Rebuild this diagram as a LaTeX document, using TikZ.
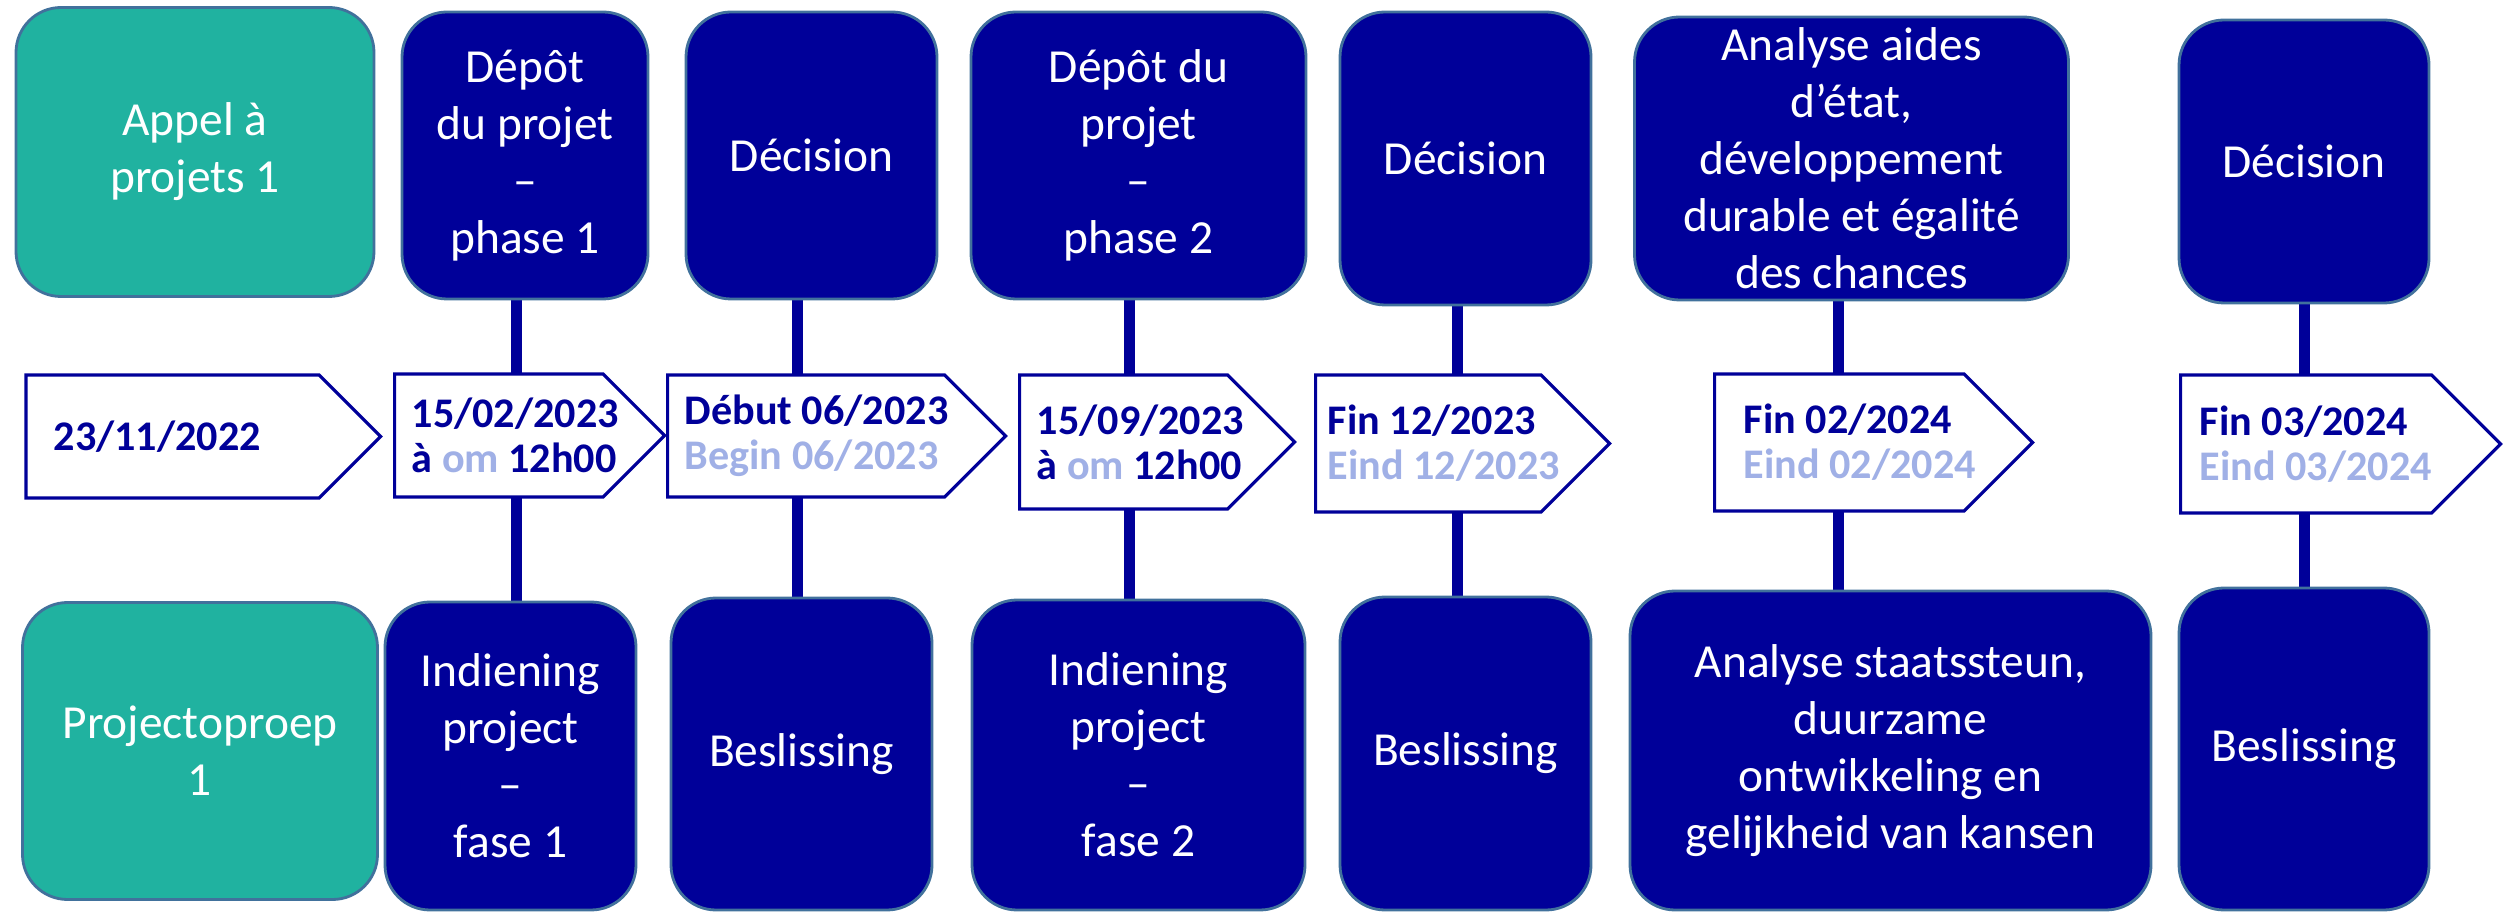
\documentclass[tikz,border=0pt]{standalone}
\usepackage{fontspec}
\setmainfont{Carlito}
\usepackage{tikz}
\usetikzlibrary{shapes.symbols,backgrounds}

\definecolor{navy}{RGB}{0,0,153}
\definecolor{callteal}{RGB}{32,178,160}
\definecolor{boxline}{RGB}{65,113,156}
\definecolor{nltext}{RGB}{160,176,230}

\begin{document}
\begin{tikzpicture}[
        font=\fontsize{13.5}{16.2}\selectfont,
        phase/.style={draw=boxline, line width=0.8pt, fill=navy, text=white, rounded corners=0.45cm, align=center, inner sep=0pt},
        call/.style={phase, fill=callteal},
        datesign/.style={shape=signal, signal to=east, signal pointer angle=90, draw=navy, line width=0.9pt, fill=white, inner sep=0pt, anchor=west},
        datetext/.style={anchor=west, text=navy, font=\fontsize{12}{12.8}\selectfont\bfseries, align=left, inner sep=0pt},
        stem/.style={draw=navy, line width=0.11cm}
    ]
    \useasboundingbox (0,0) rectangle (25.03,-9.13);

    % ==========================================
    % Appel / Projectoproep
    % ==========================================
    \node[call, minimum width=3.58cm, minimum height=2.89cm] (appel) at (1.95, -1.52) {Appel à\\projets 1};
    \node[call, minimum width=3.55cm, minimum height=2.97cm] (oproep) at (2.0, -7.51) {Projectoproep\\1};

    % ==========================================
    % Top row (FR)
    % ==========================================
    \node[phase, minimum width=2.46cm, minimum height=2.87cm] (depot1) at (5.25, -1.555) {Dépôt\\du projet\\–\\phase 1};
    \node[phase, minimum width=2.51cm, minimum height=2.87cm] (dec1) at (8.115, -1.555) {Décision};
    \node[phase, minimum width=3.35cm, minimum height=2.87cm] (depot2) at (11.385, -1.555) {Dépôt du\\projet\\–\\phase 2};
    \node[phase, minimum width=2.51cm, minimum height=2.93cm] (dec2) at (14.655, -1.585) {Décision};
    \node[phase, minimum width=4.34cm, minimum height=2.83cm] (analyse) at (18.515, -1.585) {Analyse aides\\d’état,\\développement\\durable et égalité\\des chances};
    \node[phase, minimum width=2.50cm, minimum height=2.83cm] (dec3) at (23.04, -1.615) {Décision};

    % ==========================================
    % Bottom row (NL)
    % ==========================================
    \node[phase, minimum width=2.51cm, minimum height=3.08cm] (ind1) at (5.105, -7.56) {Indiening\\project\\–\\fase 1};
    \node[phase, minimum width=2.61cm, minimum height=3.12cm] (besl1) at (8.015, -7.54) {Beslissing};
    \node[phase, minimum width=3.33cm, minimum height=3.10cm] (ind2) at (11.385, -7.55) {Indiening\\project\\–\\fase 2};
    \node[phase, minimum width=2.51cm, minimum height=3.13cm] (besl2) at (14.655, -7.535) {Beslissing};
    \node[phase, minimum width=5.21cm, minimum height=3.19cm] (staats) at (18.905, -7.505) {Analyse staatssteun,\\duurzame\\ontwikkeling en\\gelijkheid van kansen};
    \node[phase, minimum width=2.50cm, minimum height=3.22cm] (besl3) at (23.04, -7.49) {Beslissing};

    % ==========================================
    % Dates
    % ==========================================
    \node[datesign, minimum width=3.545cm, minimum height=1.23cm,
          label={[datetext, xshift=0.285cm]west:23/11/2022}] (date1) at (0.245, -4.365) {};
    \node[datesign, minimum width=2.70cm, minimum height=1.23cm,
          label={[datetext, xshift=0.18cm]west:15/02/2023\\à \textcolor{nltext}{om} 12h00}] (date2) at (3.93, -4.355) {};
    \node[datesign, minimum width=3.38cm, minimum height=1.22cm,
          label={[datetext, xshift=0.18cm]west:Début 06/2023\\\textcolor{nltext}{Begin 06/2023}}] (date3) at (6.66, -4.36) {};
    \node[datesign, minimum width=2.75cm, minimum height=1.34cm,
          label={[datetext, xshift=0.18cm]west:15/09/2023\\à \textcolor{nltext}{om} 12h00}] (date4) at (10.18, -4.42) {};
    \node[datesign, minimum width=2.94cm, minimum height=1.37cm,
          label={[datetext, xshift=0.13cm]west:Fin 12/2023\\\textcolor{nltext}{Eind 12/2023}}] (date5) at (13.14, -4.435) {};
    \node[datesign, minimum width=3.18cm, minimum height=1.37cm,
          label={[datetext, xshift=0.30cm]west:Fin 02/2024\\\textcolor{nltext}{Eind 02/2024}}] (date6) at (17.13, -4.425) {};
    \node[datesign, minimum width=3.20cm, minimum height=1.38cm,
          label={[datetext, xshift=0.20cm]west:Fin 03/2024\\\textcolor{nltext}{Eind 03/2024}}] (date7) at (21.79, -4.44) {};

    % ==========================================
    % Stems behind the dates
    % ==========================================
    \begin{pgfonlayer}{background}
        \draw[stem] ([xshift=-0.085cm]depot1.south) -- ([xshift=-0.085cm]depot1.south |- ind1.north);
        \draw[stem] ([xshift=-0.145cm]dec1.south) -- ([xshift=-0.145cm]dec1.south |- besl1.north);
        \draw[stem] ([xshift=-0.095cm]depot2.south) -- ([xshift=-0.095cm]depot2.south |- ind2.north);
        \draw[stem] ([xshift=-0.085cm]dec2.south) -- ([xshift=-0.085cm]dec2.south |- besl2.north);
        \draw[stem] ([xshift=-0.13cm]analyse.south) -- ([xshift=-0.13cm]analyse.south |- staats.north);
        \draw[stem] (dec3.south) -- (dec3.south |- besl3.north);
    \end{pgfonlayer}

\end{tikzpicture}
\end{document}
